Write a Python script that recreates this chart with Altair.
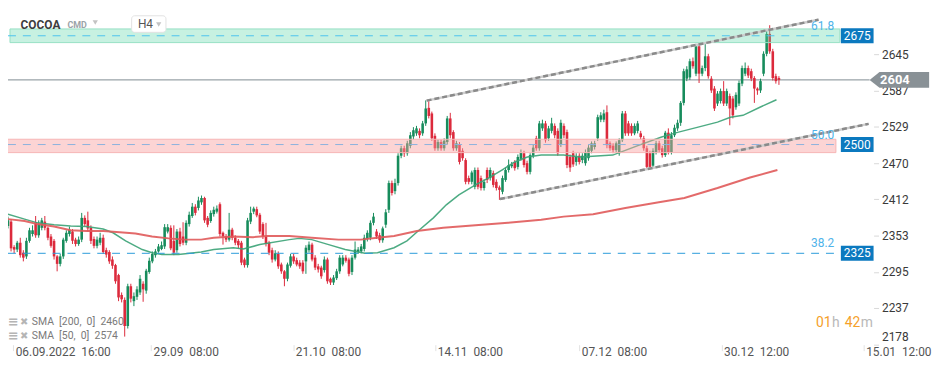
import altair as alt
import pandas as pd

# ---------------- candles (H4) ----------------
opens = [2360,2369,2376,2335,2331,2342,2326,2320,2345,2356,2375,2354,2366,2376,2366,2352,2345,2320,2308,2320,
         2345,2356,2360,2347,2340,2347,2382,2378,2366,2348,2337,2342,2350,2330,2327,2315,2306,2290,2258,2250,
         2208,2272,2248,2255,2262,2276,2265,2295,2312,2322,2328,2332,2336,2360,2366,2345,2330,2360,2352,2342,
         2372,2385,2400,2398,2407,2414,2382,2377,2388,2392,2404,2358,2352,2347,2363,2350,2345,2342,2315,2306,
         2376,2392,2396,2387,2372,2352,2342,2330,2315,2324,2307,2296,2284,2305,2320,2314,2310,2310,2312,2330,
         2339,2318,2304,2302,2298,2315,2284,2278,2285,2296,2307,2318,2315,2295,2318,2327,2328,2332,2348,2350,
         2374,2360,2354,2346,2371,2395,2438,2425,2438,2482,2494,2486,2498,2513,2518,2522,2518,2534,2559,2550,
         2514,2494,2504,2494,2504,2542,2520,2494,2500,2490,2475,2446,2440,2432,2459,2446,2430,2459,2446,2454,
         2440,2431,2424,2443,2459,2465,2472,2464,2477,2486,2470,2456,2482,2510,2494,2526,2534,2510,2522,2530,
         2522,2500,2530,2520,2480,2486,2472,2482,2475,2470,2478,2490,2496,2510,2540,2540,2552,2502,2498,2491,
         2486,2507,2550,2534,2530,2518,2522,2518,2510,2494,2486,2466,2488,2502,2494,2483,2519,2488,2515,2526,
         2535,2567,2606,2608,2634,2614,2658,2614,2623,2642,2606,2590,2566,2570,2586,2566,2578,2574,2560,2566,
         2598,2614,2623,2618,2607,2590,2587,2614,2646,2678,2650,2610,2607]
highs = [2374,2384,2380,2338,2345,2350,2330,2350,2366,2370,2385,2378,2382,2385,2368,2356,2348,2322,2324,2350,
         2362,2368,2364,2350,2352,2390,2386,2392,2370,2352,2352,2358,2355,2334,2330,2320,2308,2292,2262,2254,
         2276,2276,2262,2272,2290,2280,2300,2318,2328,2332,2340,2344,2372,2372,2370,2370,2364,2366,2375,2378,
         2392,2406,2404,2416,2418,2416,2385,2394,2400,2402,2407,2360,2356,2390,2366,2354,2348,2345,2318,2382,
         2400,2400,2400,2390,2375,2374,2345,2334,2330,2328,2310,2298,2310,2324,2324,2318,2314,2314,2338,2344,
         2342,2322,2308,2305,2320,2318,2286,2290,2300,2322,2322,2322,2318,2322,2344,2335,2340,2355,2362,2378,
         2390,2364,2358,2368,2396,2442,2442,2445,2486,2498,2498,2506,2520,2528,2530,2526,2538,2571,2572,2553,
         2518,2508,2508,2510,2546,2551,2523,2506,2504,2494,2478,2450,2458,2463,2463,2450,2444,2463,2463,2458,
         2444,2434,2450,2463,2476,2472,2475,2484,2492,2490,2474,2486,2500,2514,2538,2540,2538,2530,2543,2534,
         2526,2540,2534,2524,2484,2490,2486,2486,2486,2492,2499,2505,2506,2548,2552,2556,2563,2505,2502,2505,
         2510,2554,2554,2538,2534,2534,2538,2522,2514,2498,2490,2494,2506,2506,2498,2522,2526,2520,2532,2540,
         2570,2622,2626,2638,2640,2662,2662,2627,2663,2646,2610,2594,2586,2590,2602,2590,2582,2578,2584,2603,
         2627,2632,2627,2622,2610,2592,2606,2650,2684,2692,2654,2614,2610]
lows = [2356,2365,2328,2325,2327,2318,2312,2316,2342,2352,2350,2350,2362,2362,2346,2334,2315,2296,2304,2316,
        2342,2352,2340,2336,2337,2343,2368,2360,2340,2333,2333,2338,2324,2318,2308,2300,2276,2248,2246,2191,
        2204,2246,2240,2250,2258,2247,2260,2292,2309,2318,2326,2330,2332,2357,2330,2322,2326,2336,2338,2338,
        2368,2382,2386,2394,2403,2374,2367,2374,2384,2389,2352,2339,2343,2344,2346,2338,2333,2306,2302,2302,
        2372,2388,2383,2356,2348,2336,2322,2310,2312,2300,2292,2272,2280,2302,2308,2304,2300,2292,2292,2326,
        2312,2298,2294,2284,2294,2276,2274,2274,2282,2292,2304,2310,2288,2290,2315,2324,2325,2328,2344,2346,
        2370,2348,2342,2342,2366,2390,2418,2420,2434,2478,2480,2482,2494,2508,2514,2510,2514,2530,2542,2506,
        2490,2490,2490,2490,2500,2510,2490,2490,2468,2474,2436,2436,2436,2428,2428,2426,2426,2438,2442,2431,
        2426,2411,2420,2440,2455,2462,2458,2460,2474,2463,2452,2452,2478,2490,2490,2522,2503,2506,2518,2510,
        2482,2496,2510,2462,2456,2464,2466,2468,2470,2466,2474,2486,2492,2506,2536,2536,2494,2490,2486,2488,
        2482,2504,2514,2514,2514,2515,2518,2508,2490,2460,2460,2462,2484,2487,2479,2480,2484,2484,2512,2522,
        2530,2563,2602,2604,2622,2610,2599,2610,2618,2606,2583,2554,2562,2566,2562,2562,2531,2542,2556,2562,
        2594,2610,2607,2602,2567,2580,2583,2610,2642,2646,2603,2598,2596]
closes = [2370,2378,2333,2331,2342,2322,2318,2345,2362,2362,2354,2372,2378,2366,2350,2337,2320,2308,2320,2347,
          2358,2363,2345,2340,2347,2382,2372,2365,2345,2337,2347,2350,2327,2323,2312,2305,2280,2254,2251,2208,
          2272,2252,2256,2267,2284,2267,2297,2313,2324,2328,2336,2338,2367,2367,2333,2326,2360,2340,2342,2374,
          2387,2400,2390,2410,2414,2378,2371,2390,2395,2397,2356,2352,2347,2363,2350,2342,2338,2310,2306,2378,
          2390,2397,2386,2360,2352,2340,2326,2315,2325,2304,2296,2284,2307,2320,2312,2307,2304,2296,2334,2339,
          2315,2302,2299,2288,2315,2280,2278,2286,2296,2318,2318,2313,2292,2318,2331,2331,2336,2350,2358,2374,
          2384,2352,2346,2365,2391,2438,2422,2438,2482,2494,2486,2502,2515,2523,2526,2515,2534,2558,2546,2510,
          2494,2504,2494,2506,2542,2515,2494,2502,2472,2478,2440,2440,2455,2459,2432,2430,2440,2443,2459,2435,
          2430,2427,2446,2459,2467,2468,2462,2480,2487,2467,2456,2483,2495,2494,2534,2534,2507,2526,2534,2515,
          2486,2535,2515,2467,2463,2468,2480,2472,2482,2487,2495,2502,2502,2544,2547,2550,2499,2494,2491,2502,
          2507,2550,2518,2518,2518,2530,2534,2512,2494,2464,2464,2490,2502,2491,2483,2519,2488,2515,2527,2535,
          2567,2618,2621,2634,2626,2658,2614,2623,2642,2610,2587,2558,2582,2586,2566,2586,2558,2547,2580,2599,
          2623,2623,2611,2606,2590,2587,2602,2646,2678,2650,2607,2602,2604]

# ---------------- indicators ----------------
sma50_x = [1.0, 6.4, 10.6, 16.0, 21.4, 26.5, 32.0, 35.2, 39.3, 44.7, 47.9, 51.1, 56.5, 63.9, 68.0, 74.4,
           77.6, 83.0, 92.6, 95.8, 99.9, 105.4, 110.8, 117.2, 121.3, 126.7, 130.9, 135.0, 139.5, 143.7,
           147.8, 153.2, 157.4, 161.8, 166.0, 170.1, 174.6, 181.9, 187.4, 197.9, 206.5, 213.8, 219.3,
           225.7, 232.0, 236.2, 240.3, 245.8, 251.2]
sma50_y = [2388, 2380, 2374, 2371, 2369, 2368, 2364, 2358, 2345, 2331, 2326, 2323, 2323, 2327, 2331, 2334,
           2332, 2339, 2347, 2349, 2347, 2339, 2331, 2325, 2326, 2334, 2345, 2363, 2382, 2403,
           2419, 2435, 2446, 2459, 2472, 2480, 2483, 2483, 2480, 2483, 2499, 2512, 2520,
           2528, 2536, 2544, 2547, 2560, 2572]
sma200_x = [1.0, 6.4, 10.6, 16.0, 21.4, 26.5, 32.0, 37.4, 42.5, 47.9, 53.3, 58.5, 63.9, 68.0, 74.4, 80.8,
            85.3, 92.6, 99.9, 108.6, 115.9, 121.3, 126.7, 134.1, 142.7, 153.2, 163.8, 174.6, 181.9,
            191.5, 202.0, 212.9, 221.2, 232.0, 242.6, 251.5]
sma200_y = [2380, 2377, 2372, 2368, 2362, 2361, 2361, 2359, 2357, 2352, 2349, 2347, 2347, 2350, 2352, 2351,
            2353, 2353, 2350, 2347, 2347, 2350, 2353, 2361, 2366, 2370, 2374, 2379, 2384,
            2388, 2398, 2407, 2414, 2430, 2447, 2459]

# ---------------- drawings ----------------
trend_id = ["upper", "upper", "lower", "lower"]
trend_x = [137.3, 264.9, 161.2, 281.2]
trend_y = [2570.7, 2700.9, 2412.3, 2533.2]

levels = [2675, 2500, 2325]
level_colors = ["#4cc3ee", "#8cb2de", "#2a9bdb"]
fib_labels = ["61.8", "50.0", "38.2"]
fib_pos = [2690, 2515, 2341]
band_lo = [2664, 2487]
band_hi = [2686, 2508.5]
last_price = 2604

y_ticks = [2645, 2587, 2529, 2470, 2412, 2353, 2295, 2237, 2178]
x_tick_idx = [2.7, 47.6, 93.9, 140.1, 187.0, 233.3, 279.6]
x_tick_labels = ["06.09.2022  16:00", "29.09  08:00", "21.10  08:00", "14.11  08:00",
                 "07.12  08:00", "30.12  12:00", "15.01  12:00"]

# ---------------- build ----------------
N = len(closes)
df = pd.DataFrame({"i": list(range(N)), "o": opens, "h": highs, "l": lows, "c": closes})
df["dir"] = ["up" if c >= o else "down" for o, c in zip(opens, closes)]
df["top"] = df[["o", "c"]].max(axis=1)
df["bot"] = df[["o", "c"]].min(axis=1)

FONT = "Roboto"
xs = alt.Scale(domain=[2.62, 281.2], nice=False, zero=False)
ys = alt.Scale(domain=[2178, 2717.2], nice=False, zero=False)
col = alt.Scale(domain=["up", "down"], range=["#178c5c", "#dc2a3c"])

expr = "''"
for v, t in reversed(list(zip(x_tick_idx, x_tick_labels))):
    t2 = t.replace("  ", "\u00a0\u00a0")
    expr = f"abs(datum.value - {v}) < 0.5 ? '{t2}' : ({expr})"

x_axis = alt.Axis(values=x_tick_idx, labelExpr=expr, labelAlign="left", labelBaseline="top",
                  labelPadding=-4, labelOffset=2, tickSize=6, tickColor="#e2e2e2", domain=False,
                  grid=False, labelFlush=False, labelOverlap=False, labelFont=FONT, labelFontSize=12,
                  labelColor="#555555", title=None)
y_axis = alt.Axis(orient="right", values=y_ticks, format="d", labelFont=FONT, labelFontSize=12,
                  labelColor="#3a3a3a", tickColor="#d9d9d9", tickSize=5, labelPadding=3, domain=False,
                  grid=False, labelFlush=True, labelFlushOffset=-1, labelOverlap=False, title=None)


def X(f):
    return alt.X(f, type="quantitative", scale=xs, axis=x_axis)


def Y(f):
    return alt.Y(f, type="quantitative", scale=ys, axis=y_axis)


# last price line (behind candles)
last_df = pd.DataFrame({"p": [last_price]})
last_line = alt.Chart(last_df).mark_rule(color="#7f8b91", strokeWidth=1).encode(
    x=alt.value(0), x2=alt.value(869), y=Y("p"))

wicks = alt.Chart(df).mark_rule(strokeWidth=1).encode(
    x=X("i"), y=Y("l"), y2="h:Q",
    color=alt.Color("dir:N", scale=col, legend=None))
bodies = alt.Chart(df).mark_bar(size=2.6).encode(
    x=X("i"), y=Y("bot"), y2="top:Q",
    color=alt.Color("dir:N", scale=col, legend=None))

sma50 = alt.Chart(pd.DataFrame({"x": sma50_x, "y": sma50_y})).mark_line(
    color="#3aa275", strokeWidth=1.5, opacity=0.9).encode(x=X("x"), y=Y("y"))
sma200 = alt.Chart(pd.DataFrame({"x": sma200_x, "y": sma200_y})).mark_line(
    color="#e05a5a", strokeWidth=2, opacity=0.9).encode(x=X("x"), y=Y("y"))

green_band = alt.Chart(pd.DataFrame({"lo": [band_lo[0]], "hi": [band_hi[0]]})).mark_rect(
    fill="#5fd8a8", fillOpacity=0.35, stroke="#98e0c4", strokeWidth=1).encode(
    x=alt.value(2), x2=alt.value(839), y=Y("lo"), y2="hi:Q")
pink_band = alt.Chart(pd.DataFrame({"lo": [band_lo[1]], "hi": [band_hi[1]]})).mark_rect(
    fill="#f9a0a0", fillOpacity=0.45, stroke="#f6b4b4", strokeWidth=1).encode(
    x=alt.value(-1), x2=alt.value(835), y=Y("lo"), y2="hi:Q")

level_lines = [
    alt.Chart(pd.DataFrame({"p": [lvl]})).mark_rule(strokeWidth=1, strokeDash=[8, 7], color=c).encode(
        x=alt.value(0), x2=alt.value(839), y=Y("p"))
    for lvl, c in zip(levels, level_colors)
]

tr = pd.DataFrame({"id": trend_id, "x": trend_x, "y": trend_y})
trend_base = alt.Chart(tr).mark_line(color="#cdcdcd", strokeWidth=2.5).encode(
    x=X("x"), y=Y("y"), detail="id:N")
trend_dash = alt.Chart(tr).mark_line(color="#8a8a8a", strokeWidth=2.5, strokeDash=[5, 3]).encode(
    x=X("x"), y=Y("y"), detail="id:N")

fib = alt.Chart(pd.DataFrame({"t": fib_labels, "p": fib_pos})).mark_text(
    align="left", baseline="middle", font=FONT, fontSize=12, color="#4fb3ea").encode(
    x=alt.value(810), y=Y("p"), text="t:N")

lv = pd.DataFrame({"p": levels})
box_path = "M-1,-0.4545L1,-0.4545L1,0.4545L-1,0.4545Z"
boxes = alt.Chart(lv).mark_point(shape=box_path, size=1089, filled=True, color="#0b79bf",
                                 opacity=1, strokeWidth=0).encode(x=alt.value(856.5), y=Y("p"))
box_txt = alt.Chart(lv).mark_text(font=FONT, fontSize=12, color="white", align="center",
                                  baseline="middle").encode(x=alt.value(856.5), y=Y("p"), text="p:Q")

arrow_path = "M-1,0L-0.667,-0.2667L1,-0.2667L1,0.2667L-0.667,0.2667Z"
arrow = alt.Chart(last_df).mark_point(shape=arrow_path, size=3600, filled=True, color="#899196",
                                      opacity=1, strokeWidth=0).encode(x=alt.value(899), y=Y("p"))
arrow_txt = alt.Chart(last_df).mark_text(font=FONT, fontSize=13, fontWeight="bold", color="white",
                                         align="center", baseline="middle").encode(
    x=alt.value(894.5), y=Y("p"), text="p:Q")


def txt(s, x, y, **kw):
    return alt.Chart(pd.DataFrame({"t": [s]})).mark_text(**kw).encode(
        x=alt.value(x), y=alt.value(y), text="t:N")


def tri(x, y):
    return alt.Chart(pd.DataFrame({"a": [1]})).mark_point(
        shape="triangle-down", filled=True, size=28, color="#c3c3c3", opacity=1).encode(
        x=alt.value(x), y=alt.value(y))


h4_box = alt.Chart(pd.DataFrame({"a": [1]})).mark_rect(
    fill="white", stroke="#e2e2e2", strokeWidth=1, cornerRadius=3).encode(
    x=alt.value(124.7), x2=alt.value(159.3), y=alt.value(6.3), y2=alt.value(23))

ui = [
    txt("COCOA", 12.7, 15.3, align="left", baseline="middle", font=FONT, fontSize=12,
        fontWeight="bold", color="#3d3d3d"),
    txt("CMD", 60, 16, align="left", baseline="middle", font=FONT, fontSize=9,
        fontWeight="bold", color="#9aa3a8"),
    tri(88, 13),
    h4_box,
    txt("H4", 131, 15, align="left", baseline="middle", font=FONT, fontSize=12, color="#555555"),
    tri(152, 15),
    txt("\u2261", 0, 315, align="left", baseline="middle", font="DejaVu Sans", fontSize=13,
        fontWeight="bold", color="#b5b5b5"),
    txt("\u2716", 12, 315, align="left", baseline="middle", font="DejaVu Sans", fontSize=10,
        color="#b5b5b5"),
    txt("SMA\u00a0\u00a0[200,\u00a0\u00a00]\u00a0\u00a02460", 24, 315, align="left", baseline="middle",
        font=FONT, fontSize=10.5, color="#7a7a7a"),
    txt("\u2261", 0, 329, align="left", baseline="middle", font="DejaVu Sans", fontSize=13,
        fontWeight="bold", color="#b5b5b5"),
    txt("\u2716", 12, 329, align="left", baseline="middle", font="DejaVu Sans", fontSize=10,
        color="#b5b5b5"),
    txt("SMA\u00a0\u00a0[50,\u00a0\u00a00]\u00a0\u00a02574", 24, 329, align="left", baseline="middle",
        font=FONT, fontSize=10.5, color="#7a7a7a"),
    txt("01", 815, 316.5, align="left", baseline="middle", font=FONT, fontSize=14, color="#f5a02a"),
    txt("h", 831, 316.5, align="left", baseline="middle", font=FONT, fontSize=14, color="#b9b9b9"),
    txt("42", 844, 316.5, align="left", baseline="middle", font=FONT, fontSize=14, color="#f5a02a"),
    txt("m", 860, 316.5, align="left", baseline="middle", font=FONT, fontSize=14, color="#b9b9b9"),
]

chart = alt.layer(
    last_line, wicks, bodies, sma50, sma200, green_band, pink_band, *level_lines,
    trend_base, trend_dash, fib, boxes, box_txt, arrow, arrow_txt, *ui
).properties(
    width=873, height=338,
    autosize=alt.AutoSizeParams(type="none"),
    padding={"left": 0, "top": 0, "right": 68, "bottom": 24},
    background="white",
).configure_view(strokeWidth=0)

chart.save("out.html", embed_options={"renderer": "svg", "actions": False})
